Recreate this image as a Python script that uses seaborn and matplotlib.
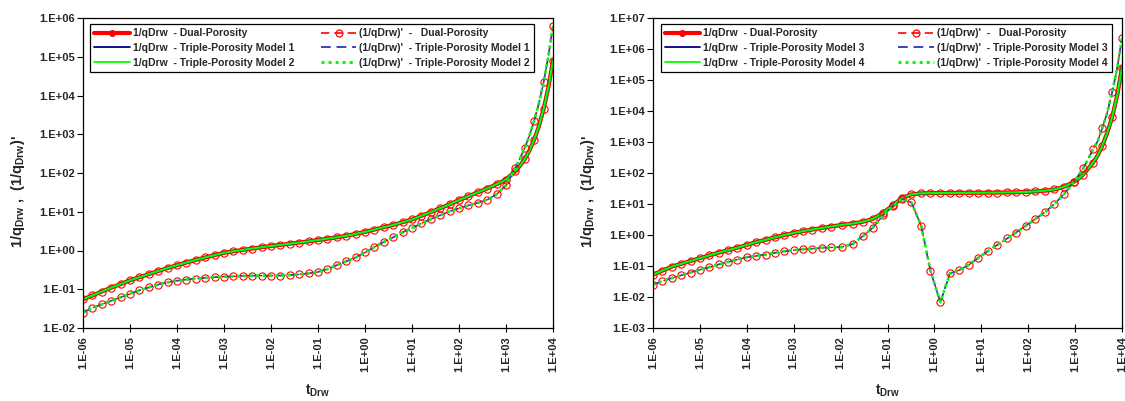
import numpy as np
import matplotlib
matplotlib.use("Agg")
import matplotlib.pyplot as plt
from matplotlib.lines import Line2D
from matplotlib.ticker import FixedLocator, FuncFormatter, NullLocator
import seaborn as sns

# ---------------- data ----------------
# time values given as log10 exponents of t_Drw
t_exp_left = [-6.0, -5.8, -5.6, -5.4, -5.2, -5.0, -4.8, -4.6, -4.4, -4.2,
              -4.0, -3.8, -3.6, -3.4, -3.2, -3.0, -2.8, -2.6, -2.4, -2.2,
              -2.0, -1.8, -1.6, -1.4, -1.2, -1.0, -0.8, -0.6, -0.4, -0.2,
              0.0, 0.2, 0.4, 0.6, 0.8, 1.0, 1.2, 1.4, 1.6, 1.8,
              2.0, 2.2, 2.4, 2.6, 2.8, 3.0, 3.1, 3.2, 3.3, 3.4,
              3.5, 3.6, 3.7, 3.8, 3.9, 4.0]
left_line_only = [3.1, 3.3, 3.5, 3.7, 3.9]

q_left_dual = [0.055, 0.069, 0.087, 0.110, 0.136, 0.170, 0.204, 0.245, 0.295, 0.351,
               0.417, 0.490, 0.569, 0.661, 0.759, 0.871, 0.955, 1.035, 1.122, 1.216,
               1.303, 1.396, 1.496, 1.603, 1.718, 1.862, 2.018, 2.188, 2.399, 2.692,
               3.02, 3.467, 3.981, 4.571, 5.37, 6.31, 7.85, 9.77, 12.3, 15.5,
               20.0, 25.1, 31.6, 39.8, 51.3, 67.6, 87.0, 112.0, 155.0, 229.0,
               385.0, 724.0, 1620.0, 4470.0, 15850.0, 79400.0]
d_left_dual = [0.0251, 0.0331, 0.0407, 0.0501, 0.0617, 0.0759, 0.0933, 0.112, 0.132, 0.151,
               0.166, 0.178, 0.188, 0.197, 0.204, 0.211, 0.216, 0.221, 0.224, 0.224,
               0.224, 0.226, 0.232, 0.243, 0.257, 0.279, 0.331, 0.417, 0.525, 0.661,
               0.891, 1.23, 1.66, 2.19, 2.95, 3.80, 5.01, 6.46, 8.13, 10.2,
               12.3, 14.5, 17.0, 20.4, 28.2, 47.9, 81.3, 138.0, 240.0, 447.0,
               933.0, 2240.0, 6310.0, 21900.0, 100000.0, 616600.0]
# the triple-porosity curves lie on top of the dual-porosity curves
q_left_tri1 = list(q_left_dual)
q_left_tri2 = list(q_left_dual)
d_left_tri1 = list(d_left_dual)
d_left_tri2 = list(d_left_dual)

t_exp_right = [-6.0, -5.8, -5.6, -5.4, -5.2, -5.0, -4.8, -4.6, -4.4, -4.2,
               -4.0, -3.8, -3.6, -3.4, -3.2, -3.0, -2.8, -2.6, -2.4, -2.2,
               -1.98, -1.74, -1.52, -1.31, -1.09, -0.88, -0.69, -0.49, -0.28, -0.085,
               0.127, 0.33, 0.53, 0.74, 0.94, 1.14, 1.34, 1.55, 1.74, 1.95,
               2.15, 2.36, 2.56, 2.77, 2.97, 3.07, 3.17, 3.27, 3.38, 3.48,
               3.58, 3.68, 3.79, 3.9, 4.0]
right_line_only = [3.07, 3.27, 3.48, 3.68, 3.9]

q_right_dual = [0.0525, 0.0708, 0.0955, 0.117, 0.145, 0.178, 0.221, 0.269, 0.324, 0.389,
                0.479, 0.589, 0.700, 0.841, 1.00, 1.16, 1.33, 1.50, 1.68, 1.88,
                2.11, 2.34, 2.69, 3.31, 5.25, 9.12, 15.8, 20.4, 22.1, 22.4,
                22.5, 22.6, 22.8, 22.9, 23.0, 23.2, 23.3, 23.6, 23.9, 24.5,
                25.4, 26.9, 29.5, 36.3, 51.3, 64.6, 89.1, 132.0, 214.0, 363.0,
                759.0, 1860.0, 6310.0, 33100.0, 251000.0]
d_right_dual = [0.0251, 0.0324, 0.0407, 0.0501, 0.0617, 0.0759, 0.0912, 0.112, 0.135, 0.162,
                0.191, 0.211, 0.234, 0.266, 0.299, 0.324, 0.347, 0.363, 0.385, 0.398,
                0.407, 0.513, 0.933, 1.74, 4.37, 8.71, 14.5, 11.2, 1.95, 0.0708,
                0.00676, 0.0575, 0.0741, 0.110, 0.186, 0.302, 0.479, 0.776, 1.20, 2.00,
                3.24, 5.50, 10.0, 21.4, 50.1, 83.2, 141.0, 263.0, 575.0, 1050.0,
                2820.0, 8320.0, 39800.0, 251000.0, 2190000.0]
q_right_tri3 = list(q_right_dual)
q_right_tri4 = list(q_right_dual)
d_right_tri3 = list(d_right_dual)
d_right_tri4 = list(d_right_dual)

x_ticks = [1e-6, 1e-5, 1e-4, 1e-3, 1e-2, 1e-1, 1e0, 1e1, 1e2, 1e3, 1e4]
y_ticks_left = [1e-2, 1e-1, 1e0, 1e1, 1e2, 1e3, 1e4, 1e5, 1e6]
y_ticks_right = [1e-3, 1e-2, 1e-1, 1e0, 1e1, 1e2, 1e3, 1e4, 1e5, 1e6, 1e7]

labels_left = ["1/qDrw  - Dual-Porosity",
               "1/qDrw  - Triple-Porosity Model 1",
               "1/qDrw  - Triple-Porosity Model 2",
               "(1/qDrw)'  -   Dual-Porosity",
               "(1/qDrw)'  - Triple-Porosity Model 1",
               "(1/qDrw)'  - Triple-Porosity Model 2"]
labels_right = ["1/qDrw  - Dual-Porosity",
                "1/qDrw  - Triple-Porosity Model 3",
                "1/qDrw  - Triple-Porosity Model 4",
                "(1/qDrw)'  -   Dual-Porosity",
                "(1/qDrw)'  - Triple-Porosity Model 3",
                "(1/qDrw)'  - Triple-Porosity Model 4"]

# ---------------- style ----------------
sns.set_style("white")
plt.rcParams.update({
    "font.family": ["Liberation Sans", "DejaVu Sans"],
    "font.weight": "bold",
    "mathtext.fontset": "custom",
    "mathtext.rm": "Liberation Sans:bold",
    "mathtext.bf": "Liberation Sans:bold",
    "mathtext.it": "Liberation Sans:bold",
    "mathtext.sf": "Liberation Sans:bold",
    "mathtext.default": "bf",
})

RED = "#FF0000"
NAVY = "#000080"
BLUE_D = "#4040C0"
GREEN = "#00FF00"

DASH = (0, (5, 3))
DOT = (0, (1, 1.3))


def fmt(v, pos):
    e = int(round(np.log10(v)))
    return f"1.E{e:+03d}"


def draw(ax, t_exp, line_only, q_dual, q_a, q_b, d_dual, d_a, d_b, labels, ylim, yticks,
         leg_box):
    t = 10.0 ** np.asarray(t_exp)
    mk = [i for i, e in enumerate(t_exp) if e not in line_only]
    ax.set_xscale("log")
    ax.set_yscale("log")
    common = dict(ax=ax, legend=False, errorbar=None, sort=False)
    mkw = dict(marker="o", markevery=mk, markersize=5.2, markerfacecolor="none",
               markeredgecolor=RED, markeredgewidth=0.8)
    # 1/q curves
    sns.lineplot(x=t, y=q_dual, color=RED, linewidth=3.0, **mkw, **common)
    sns.lineplot(x=t, y=q_a, color=NAVY, linewidth=1.6, **common)
    sns.lineplot(x=t, y=q_b, color=GREEN, linewidth=1.6, **common)
    # derivative curves
    sns.lineplot(x=t, y=d_dual, color=RED, linewidth=1.0, linestyle=DASH, **mkw, **common)
    sns.lineplot(x=t, y=d_a, color=BLUE_D, linewidth=1.2, linestyle=DASH, **common)
    sns.lineplot(x=t, y=d_b, color=GREEN, linewidth=2.0, linestyle=DOT, **common)

    ax.set_xlim(1e-6, 1e4)
    ax.set_ylim(*ylim)
    ax.xaxis.set_major_locator(FixedLocator(x_ticks))
    ax.yaxis.set_major_locator(FixedLocator(yticks))
    ax.xaxis.set_minor_locator(NullLocator())
    ax.yaxis.set_minor_locator(NullLocator())
    ax.xaxis.set_major_formatter(FuncFormatter(fmt))
    ax.yaxis.set_major_formatter(FuncFormatter(fmt))
    ax.tick_params(axis="x", which="major", direction="inout", length=6, width=0.8,
                   labelsize=8, pad=3, labelrotation=90, bottom=True, top=False, color="black")
    ax.tick_params(axis="y", which="major", direction="out", length=4, width=0.8,
                   labelsize=8, pad=2, left=True, right=False, color="black")
    for lab in ax.get_xticklabels() + ax.get_yticklabels():
        lab.set_fontweight("bold")
    for s in ax.spines.values():
        s.set_color("black")
        s.set_linewidth(0.9)
        s.set_visible(True)
    ax.grid(False)

    ax.set_xlabel(r"$t_{Drw}$", fontsize=10, fontweight="bold")
    ax.xaxis.set_label_coords(0.5, -0.175)
    ax.set_ylabel(r"$1/q_{Drw}$ ,  $(1/q_{Drw})$'", fontsize=10.5, fontweight="bold")
    ax.yaxis.set_label_coords(-0.12, 0.44)

    handles = [
        Line2D([], [], color=RED, lw=3.0, marker="o", ms=4, mfc=RED, mec=RED),
        Line2D([], [], color=NAVY, lw=1.3),
        Line2D([], [], color=GREEN, lw=1.3),
        Line2D([], [], color=RED, lw=1.2, ls=DASH, marker="o", ms=5, mfc="none", mec=RED, mew=0.9),
        Line2D([], [], color=BLUE_D, lw=1.4, ls=DASH),
        Line2D([], [], color=GREEN, lw=2.2, ls=DOT),
    ]
    leg = ax.legend(handles, labels, ncol=2, loc="upper left", mode="expand",
                    bbox_to_anchor=leg_box, borderaxespad=0.0,
                    fontsize=7.5, frameon=True, fancybox=False, shadow=False,
                    edgecolor="black", framealpha=1.0, handlelength=3.4,
                    handletextpad=0.3, labelspacing=0.45, borderpad=0.4,
                    numpoints=1, columnspacing=1.0)
    leg.get_frame().set_linewidth(0.9)
    for txt in leg.get_texts():
        txt.set_fontweight("bold")
    return ax


fig = plt.figure(figsize=(11.25, 4.01), dpi=100)
fig.patch.set_facecolor("white")
ax1 = fig.add_axes([83 / 1125, 73 / 401, 470 / 1125, 310 / 401])
ax2 = fig.add_axes([653 / 1125, 73 / 401, 469 / 1125, 310 / 401])

draw(ax1, t_exp_left, left_line_only, q_left_dual, q_left_tri1, q_left_tri2,
     d_left_dual, d_left_tri1, d_left_tri2, labels_left, (1e-2, 1e6), y_ticks_left,
     (0.015, 0.0, 0.945, 0.98))
draw(ax2, t_exp_right, right_line_only, q_right_dual, q_right_tri3, q_right_tri4,
     d_right_dual, d_right_tri3, d_right_tri4, labels_right, (1e-3, 1e7), y_ticks_right,
     (0.016, 0.0, 0.962, 0.98))

fig.savefig("out.png", dpi=100, facecolor="white")
